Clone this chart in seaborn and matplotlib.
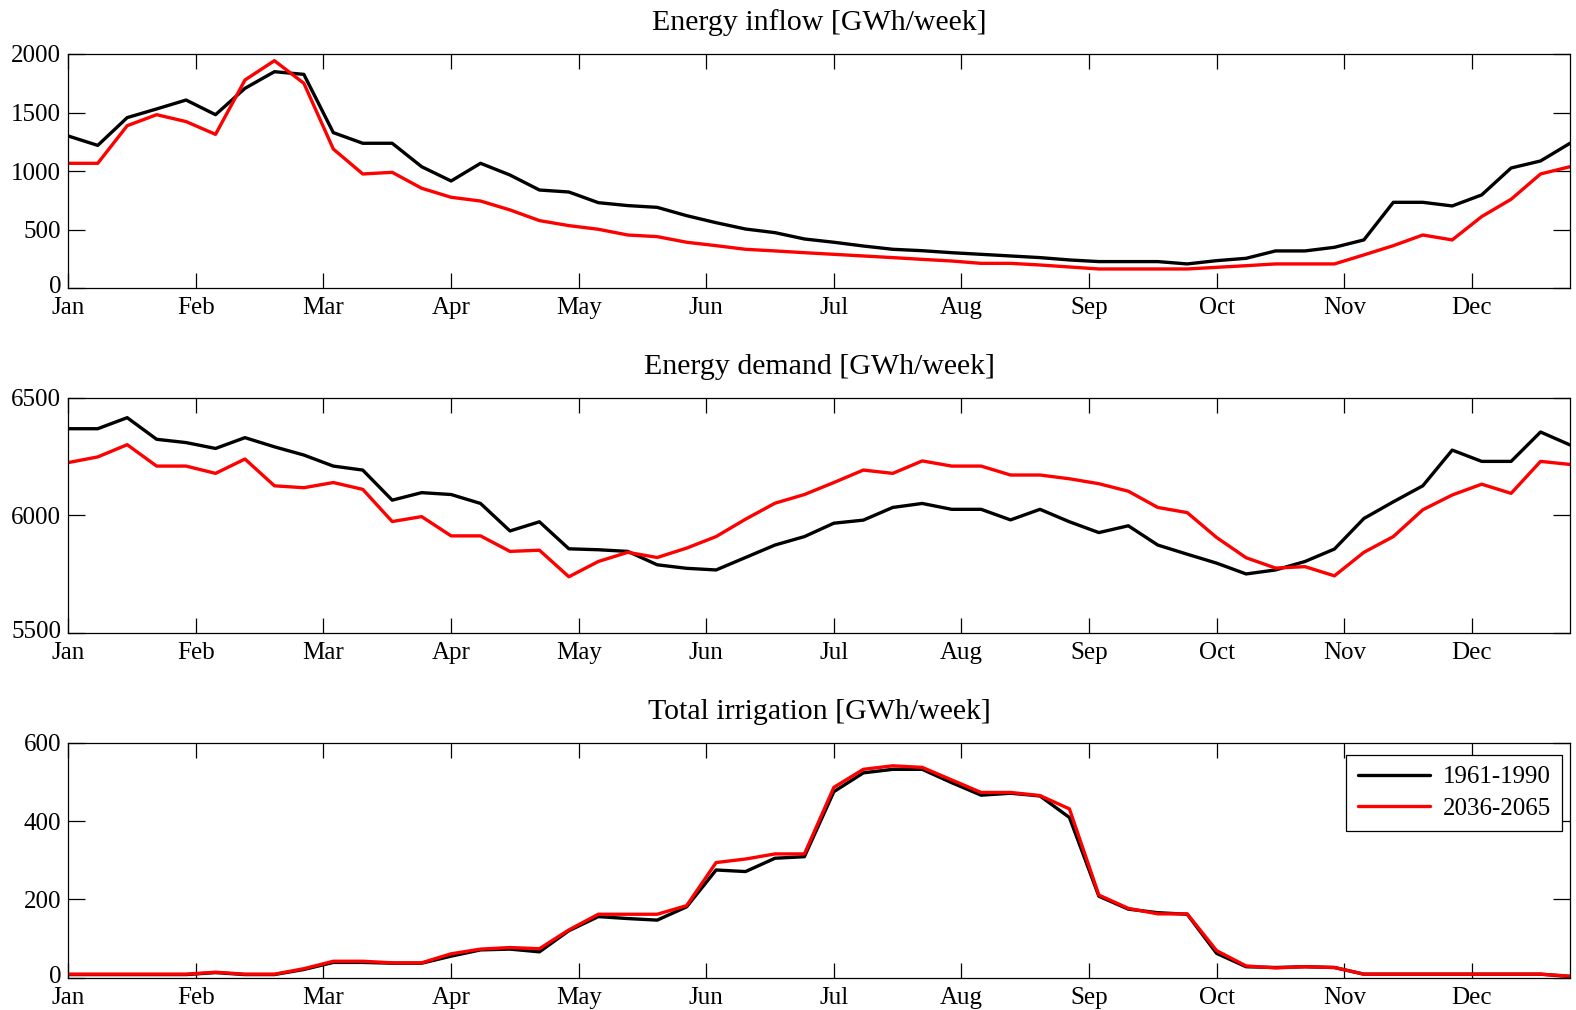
import numpy as np
import pandas as pd
import matplotlib
matplotlib.use("Agg")
import matplotlib.pyplot as plt
import matplotlib.transforms as mtransforms
import seaborn as sns

# ---------------- data ----------------
months = ["Jan", "Feb", "Mar", "Apr", "May", "Jun",
          "Jul", "Aug", "Sep", "Oct", "Nov", "Dec"]
periods = ["1961-1990", "2036-2065"]
weeks = list(range(1, 53))

inflow_1961 = [1300, 1220, 1457, 1531, 1607, 1482, 1707, 1849, 1826, 1329,
               1238, 1238, 1038, 916, 1067, 967, 839, 822, 731, 706,
               691, 620, 560, 506, 475, 421, 393, 361, 333, 321,
               304, 290, 276, 262, 242, 228, 228, 228, 208, 236,
               256, 319, 319, 350, 413, 734, 734, 703, 797, 1027,
               1087, 1238]
inflow_2036 = [1067, 1067, 1388, 1482, 1423, 1314, 1778, 1943, 1750, 1189,
               976, 990, 854, 777, 745, 669, 578, 535, 504, 455,
               441, 393, 364, 333, 319, 304, 290, 276, 262, 247,
               233, 213, 213, 199, 182, 165, 165, 165, 165, 179,
               193, 208, 208, 208, 285, 364, 455, 413, 612, 760,
               976, 1038]

demand_1961 = [6368, 6368, 6415, 6323, 6309, 6284, 6330, 6291, 6256, 6209,
               6192, 6064, 6096, 6088, 6050, 5933, 5972, 5857, 5853, 5846,
               5789, 5774, 5767, 5820, 5873, 5909, 5966, 5979, 6033, 6050,
               6025, 6025, 5980, 6025, 5972, 5926, 5955, 5873, 5834, 5796,
               5750, 5767, 5803, 5856, 5986, 6057, 6125, 6277, 6229, 6229,
               6354, 6299]
demand_2036 = [6224, 6248, 6300, 6209, 6209, 6178, 6239, 6125, 6117, 6139,
               6110, 5973, 5994, 5912, 5912, 5846, 5851, 5738, 5803, 5842,
               5820, 5860, 5909, 5983, 6051, 6088, 6139, 6192, 6178, 6231,
               6209, 6209, 6171, 6171, 6155, 6134, 6102, 6033, 6011, 5905,
               5819, 5775, 5781, 5742, 5842, 5909, 6023, 6086, 6132, 6093,
               6229, 6216]

irrig_1961 = [8, 8, 8, 8, 8, 13, 8, 8, 21, 39,
              39, 37, 37, 55, 71, 73, 66, 120, 156, 151,
              147, 181, 275, 271, 305, 309, 475, 523, 532, 532,
              498, 466, 471, 464, 409, 208, 175, 166, 162, 62,
              28, 26, 28, 26, 9, 9, 9, 9, 9, 9,
              9, 3]
irrig_2036 = [9, 9, 9, 9, 9, 14, 9, 9, 23, 42,
              42, 38, 38, 61, 73, 77, 74, 122, 162, 162,
              162, 184, 294, 303, 316, 316, 486, 532, 541, 537,
              505, 473, 473, 465, 431, 211, 177, 163, 163, 69,
              30, 25, 28, 26, 9, 9, 9, 9, 9, 9,
              9, 4]

titles = ["Energy inflow [GWh/week]",
          "Energy demand [GWh/week]",
          "Total irrigation [GWh/week]"]
series = [(inflow_1961, inflow_2036),
          (demand_1961, demand_2036),
          (irrig_1961, irrig_2036)]
ylims = [(0, 2000), (5500, 6500), (0, 600)]
yticks = [[0, 500, 1000, 1500, 2000], [5500, 6000, 6500], [0, 200, 400, 600]]

# ---------------- style ----------------
sns.set_theme(style="ticks")
plt.rcParams["font.family"] = ["Liberation Serif", "DejaVu Serif"]
plt.rcParams["axes.edgecolor"] = "black"
plt.rcParams["xtick.color"] = "black"
plt.rcParams["ytick.color"] = "black"
plt.rcParams["text.color"] = "black"

palette = {"1961-1990": "black", "2036-2065": "red"}

W, H = 1576, 1010
fig = plt.figure(figsize=(W / 100, H / 100), dpi=100)

# axes boxes in pixels (left, top, right, bottom)
boxes = [(68.3, 54.0, 1570.0, 288.3),
         (68.3, 397.7, 1570.0, 632.7),
         (68.3, 742.7, 1570.0, 977.7)]

month_pos = [1 + m * 52 / 12 for m in range(12)]
axes = []

for i, (box, title, (s1, s2), yl, yt) in enumerate(zip(boxes, titles, series, ylims, yticks)):
    l, t, r, b = box
    ax = fig.add_axes([l / W, 1 - b / H, (r - l) / W, (b - t) / H])
    axes.append(ax)
    df = pd.DataFrame({
        "week": weeks + weeks,
        "value": s1 + s2,
        "period": [periods[0]] * len(weeks) + [periods[1]] * len(weeks),
    })
    sns.lineplot(data=df, x="week", y="value", hue="period",
                 hue_order=periods, palette=palette, linewidth=2.4,
                 ax=ax, legend=(i == 2))
    ax.set_xlim(1, 52)
    ax.set_ylim(*yl)
    ax.set_xticks(month_pos)
    ax.set_xticklabels(months)
    ax.set_yticks(yt)
    ax.set_xlabel("")
    ax.set_ylabel("")
    ax.tick_params(axis="both", which="major", direction="in",
                   top=True, right=True, labelsize=18, width=0.9)
    ax.tick_params(axis="x", length=11, pad=6.5)
    ax.tick_params(axis="y", length=12, pad=5)
    for s in ax.spines.values():
        s.set_visible(True)
        s.set_linewidth(0.9)
        s.set_color("black")
    ax.set_title(title, fontsize=21.5, pad=17)
    if i == 2:
        h, lab = ax.get_legend_handles_labels()
        leg = ax.legend(h, lab, loc="upper right",
                        bbox_to_anchor=(1 - 8 / 1502, 1 - 12 / 235),
                        borderaxespad=0, fontsize=18, frameon=True,
                        fancybox=False, framealpha=1, edgecolor="black",
                        handlelength=2.9, labelspacing=0.35,
                        borderpad=0.45, handletextpad=0.5)
        leg.get_frame().set_linewidth(0.9)
        for line in leg.get_lines():
            line.set_linewidth(2.4)

# lift the lowest y tick label slightly so it clears the first month label
offset = mtransforms.ScaledTranslation(0, 3.5 / 100, fig.dpi_scale_trans)
for ax in axes:
    tick0 = ax.yaxis.get_major_ticks()[0]
    tick0.label1.set_transform(tick0.label1.get_transform() + offset)

fig.savefig("out.png", dpi=100)
